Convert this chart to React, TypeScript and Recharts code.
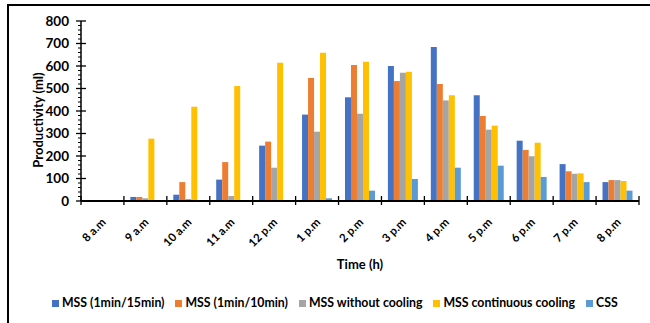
import React from 'react';
import { BarChart, Bar, XAxis, YAxis, Legend } from 'recharts';

const times = ['8 a.m', '9 a.m', '10 a.m', '11 a.m', '12 p.m', '1 p.m', '2 p.m', '3 p.m', '4 p.m', '5 p.m', '6 p.m', '7 p.m', '8 p.m'];
const mss15 = [0, 18, 28, 95, 246, 384, 461, 600, 684, 470, 268, 164, 84];
const mss10 = [0, 18, 84, 173, 264, 547, 604, 533, 520, 378, 227, 132, 93];
const mssNoCool = [0, 12, 9, 22, 148, 308, 388, 570, 447, 317, 199, 121, 93];
const mssCont = [0, 277, 419, 511, 615, 659, 619, 575, 470, 335, 259, 123, 89];
const css = [0, 0, 0, 0, 0, 12, 46, 98, 148, 157, 107, 84, 46];

const seriesNames = ['MSS (1min/15min)', 'MSS (1min/10min)', 'MSS without cooling', 'MSS continuous cooling', 'CSS'];
const seriesColors = ['#4472C4', '#ED7D31', '#A5A5A5', '#FFC000', '#5B9BD5'];
const yMajorStep = 100;
const yAllTicks: number[] = [];
for (let v = 0; v <= 800; v += 20) yAllTicks.push(v);

const data = times.map((t, i) => ({
  time: t,
  s0: mss15[i],
  s1: mss10[i],
  s2: mssNoCool[i],
  s3: mssCont[i],
  s4: css[i],
}));

const FONT = 'Lato, "Open Sans", sans-serif';

const YTick = (props: any) => {
  const { x, y, payload } = props;
  if (payload.value % yMajorStep !== 0) {
    return <line x1={x - 3} x2={x} y1={y} y2={y} stroke="#000" strokeWidth={1} />;
  }
  return (
    <g>
      <line x1={x - 5} x2={x + 5} y1={y} y2={y} stroke="#000" strokeWidth={1.3} />
      <text x={x - 12} y={y} dy="0.35em" textAnchor="end" fontFamily={FONT} fontWeight="bold" fontSize={13.5} fill="#000">
        {payload.value}
      </text>
    </g>
  );
};

const XTick = (props: any) => {
  const { x, y, payload, index, visibleTicksCount } = props;
  const half = typeof payload.offset === 'number' ? payload.offset : 0;
  const tx = x + 4;
  const ty = y + 22;
  return (
    <g>
      <line x1={x - half} x2={x - half} y1={y - 5} y2={y + 4} stroke="#000" strokeWidth={1.3} />
      {index === visibleTicksCount - 1 && (
        <line x1={x + half} x2={x + half} y1={y - 5} y2={y + 4} stroke="#000" strokeWidth={1.3} />
      )}
      <text x={tx} y={ty} transform={`rotate(-45, ${tx}, ${ty})`} textAnchor="end" fontFamily={FONT} fontWeight="bold" fontSize={11.5} fill="#000">
        {payload.value}
      </text>
    </g>
  );
};

const renderLegend = (props: any) => {
  const payload = [...(props.payload || [])].sort(
    (a: any, b: any) => seriesNames.indexOf(a.value) - seriesNames.indexOf(b.value)
  );
  return (
    <div style={{ display: 'flex', alignItems: 'center', paddingLeft: 52, fontFamily: FONT, fontWeight: 'bold', fontSize: 12.3, lineHeight: '14px', color: '#000', whiteSpace: 'nowrap' }}>
      {payload.map((entry: any, i: number) => (
        <span key={i} style={{ display: 'inline-flex', alignItems: 'center', marginRight: 11 }}>
          <span style={{ display: 'inline-block', width: 7, height: 7, background: entry.color, marginRight: 3 }} />
          {entry.value}
        </span>
      ))}
    </div>
  );
};

export default function App() {
  return (
    <div style={{ position: 'absolute', left: 0, top: 0, width: 650, height: 323, overflow: 'hidden', background: '#fff' }}>
      <div style={{ position: 'absolute', left: 7, top: 4, width: 643, height: 319, borderTop: '2px solid #000', borderLeft: '2px solid #000', boxSizing: 'border-box' }} />
      <div style={{ position: 'absolute', left: 0, top: 0 }}>
        <BarChart width={650} height={323} data={data} margin={{ top: 21, right: 11, left: 41, bottom: 62 }} barCategoryGap="15%" barGap={0}>
          <YAxis
            width={40}
            domain={[0, 800]}
            ticks={yAllTicks}
            interval={0}
            tickSize={0}
            tickMargin={0}
            tickLine={false}
            tick={<YTick />}
            axisLine={{ stroke: '#000', strokeWidth: 1.5 }}
            label={(p: any) => {
              const vb = p.viewBox || { x: 41, y: 21, width: 40, height: 180 };
              const cx = vb.x - 3;
              const cy = vb.y + vb.height / 2 + 9;
              return (
                <text x={cx} y={cy} transform={`rotate(-90, ${cx}, ${cy})`} textAnchor="middle" dy="0.35em" fontFamily={FONT} fontWeight="bold" fontSize={13} fill="#000">
                  Productivity (ml)
                </text>
              );
            }}
          />
          <YAxis yAxisId="right" orientation="right" width={0} domain={[0, 800]} tick={false} tickLine={false} axisLine={{ stroke: '#595959', strokeWidth: 1.5 }} />
          <XAxis xAxisId="top" orientation="top" dataKey="time" height={0} tick={false} tickLine={false} axisLine={{ stroke: '#595959', strokeWidth: 1.5 }} />
          <XAxis
            dataKey="time"
            height={60}
            interval={0}
            tickSize={0}
            tickMargin={0}
            tickLine={false}
            tick={<XTick />}
            axisLine={{ stroke: '#000', strokeWidth: 1.8 }}
            label={(p: any) => {
              const vb = p.viewBox || { x: 81, y: 201, width: 558, height: 60 };
              return (
                <text x={vb.x + vb.width / 2} y={vb.y + 63} dy="0.35em" textAnchor="middle" fontFamily={FONT} fontWeight="bold" fontSize={13} fill="#000">
                  Time (h)
                </text>
              );
            }}
          />
          <Legend content={renderLegend} wrapperStyle={{ position: 'absolute', top: 296, left: 0, width: 650, height: 0 }} />
          {seriesNames.map((name, i) => (
            <Bar key={name} dataKey={`s${i}`} name={name} fill={seriesColors[i]} isAnimationActive={false} />
          ))}
        </BarChart>
      </div>
    </div>
  );
}
